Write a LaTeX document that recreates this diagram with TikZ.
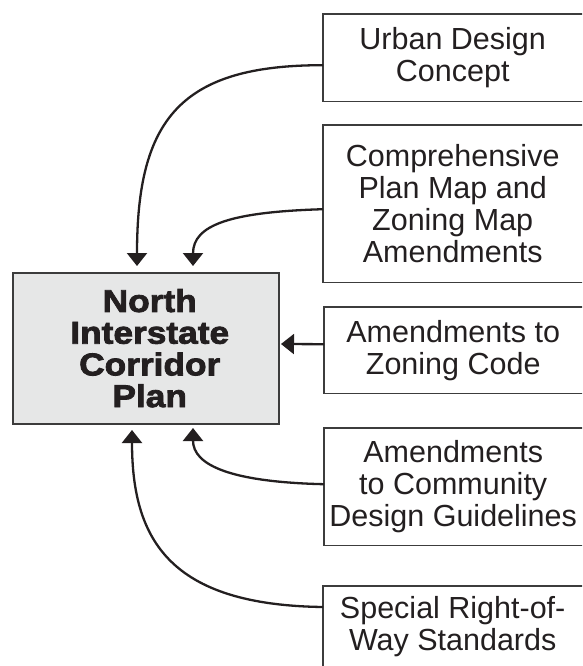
\documentclass[tikz,border=0pt]{standalone}
\usepackage{fontspec}
\setmainfont{Liberation Sans}
\newfontfamily\heavyfont{Liberation Sans Bold}[FakeBold=2.5,FakeStretch=1.12]
\usetikzlibrary{arrows.meta,calc}
\definecolor{boxfill}{RGB}{230,231,231}
\definecolor{edge}{RGB}{60,60,60}
\definecolor{ink}{RGB}{35,31,32}
\begin{document}
\begin{tikzpicture}[x=1pt,y=-1pt,
  side/.style={minimum width=259pt, inner sep=0pt, align=center,
    font=\fontsize{30.5}{32}\selectfont, text=ink, anchor=north west},
  arr/.style={line width=2.3pt, draw=ink, -{Triangle[width=20pt,length=13pt]}},
  frame/.style={draw=edge, line width=1.3pt}]
\useasboundingbox (0,0) rectangle (582,666);
\clip (0,0) rectangle (582,666);
% side boxes
\node[side, minimum height=87pt] (u) at (323,14) {Urban Design\\Concept};
\node[side, minimum height=157pt] (c) at (323,125) {Comprehensive\\Plan Map and\\Zoning Map\\Amendments};
\node[side, minimum width=258pt, minimum height=86pt] (z) at (324,307) {Amendments to\\Zoning Code};
\node[side, minimum width=258pt, minimum height=117pt] (g) at (324,428) {Amendments\\to Community\\Design Guidelines};
\node[side, minimum height=80pt] (s) at (323,586) {Special Right-of-\\Way Standards};
\foreach \n in {u,c,z,g}{
  \draw[frame] ([xshift=20pt]\n.north east) -- (\n.north west) -- (\n.south west) -- ([xshift=20pt]\n.south east);
}
\draw[frame] ([xshift=20pt]s.north east) -- (s.north west) -- ([yshift=-100pt]s.south west);
% main box
\node[draw=edge, line width=1.5pt, fill=boxfill, minimum width=266pt, minimum height=151pt,
  anchor=north west, inner sep=0pt] (m) at (12,272) {};
\node[inner sep=0pt, align=center, text=ink,
  font=\heavyfont\fontsize{31.5}{31.7}\selectfont] (mt) at ([xshift=4pt]m.center) {North\\Interstate\\Corridor\\Plan};
% arrow targets
\coordinate (t1) at (137,266);
\coordinate (t2) at (193,266);
\coordinate (t3) at (281,344);
\coordinate (t4) at (193,428);
\coordinate (t5) at (132,430);
% connectors
\draw[arr] ([yshift=-7.5pt]u.west) .. controls (180,65) and (137,120) .. (t1);
\draw[arr] ([yshift=-5.5pt]c.west) .. controls (230,212) and (193,225) .. (t2);
\draw[arr] ([yshift=6pt]z.west) -- (t3);
\draw[arr] ([yshift=2.5pt]g.west) .. controls (230,482) and (193,465) .. (t4);
\draw[arr] ([yshift=-21pt]s.north west) .. controls (170,605) and (132,540) .. (t5);
\end{tikzpicture}
\end{document}
